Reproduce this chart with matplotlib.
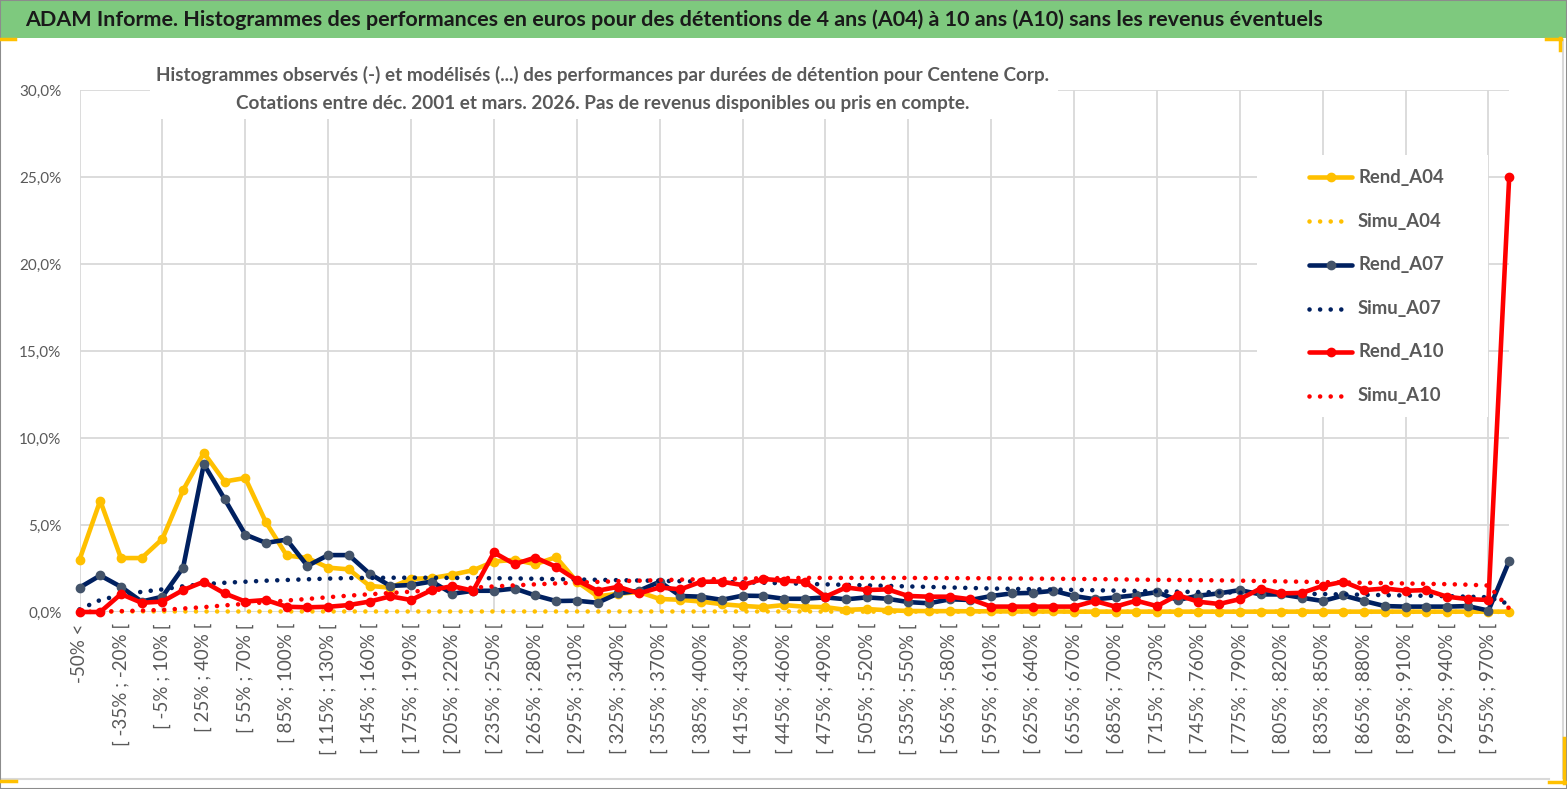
import matplotlib
matplotlib.use("Agg")
import matplotlib.pyplot as plt
from matplotlib.lines import Line2D
from matplotlib.patches import Rectangle
from matplotlib.ticker import FuncFormatter

# ---------------- data (values in %) ----------------
categories = ["-50% <"] + [f"[ {lo}% ; {lo + 15}% [" for lo in range(-50, 956, 15)] + ["970% >"]

rend_a04 = [3.0, 6.4, 3.1, 3.1, 4.2, 7.0, 9.15, 7.5, 7.7, 5.15,
            3.25, 3.1, 2.55, 2.45, 1.5, 1.4, 1.9, 1.95, 2.15, 2.4,
            2.9, 3.0, 2.75, 3.15, 1.75, 0.9, 1.05, 1.15, 0.75, 0.7,
            0.6, 0.45, 0.35, 0.28, 0.4, 0.3, 0.28, 0.12, 0.17, 0.1,
            0.06, 0.05, 0.05, 0.04, 0.04, 0.03, 0.03, 0.03, 0.02, 0.02,
            0.02, 0.02, 0.02, 0.02, 0.02, 0.02, 0.02, 0.02, 0.02, 0.02,
            0.02, 0.02, 0.02, 0.02, 0.02, 0.02, 0.02, 0.02, 0.02, 0.02]

simu_a04 = [0.0, 0.02, 0.03, 0.03, 0.03, 0.03, 0.03, 0.03, 0.03, 0.03,
            0.03, 0.03, 0.03, 0.03, 0.03, 0.03, 0.03, 0.03, 0.03, 0.03,
            0.03, 0.03, 0.03, 0.03, 0.03, 0.03, 0.03, 0.03, 0.03, 0.03,
            0.03, 0.03, 0.03, 0.03, 0.03, 0.03, 0.02, 0.02, 0.02, 0.02,
            0.02, 0.02, 0.02, 0.02, 0.02, 0.02, 0.02, 0.02, 0.02, 0.02,
            0.02, 0.02, 0.02, 0.02, 0.02, 0.02, 0.02, 0.02, 0.02, 0.02,
            0.01, 0.01, 0.01, 0.01, 0.01, 0.01, 0.01, 0.01, 0.01, 0.0]

rend_a07 = [1.4, 2.1, 1.45, 0.6, 0.88, 2.55, 8.5, 6.5, 4.45, 3.97,
            4.16, 2.65, 3.27, 3.27, 2.2, 1.5, 1.55, 1.75, 1.05, 1.22,
            1.22, 1.35, 0.95, 0.63, 0.65, 0.53, 1.07, 1.22, 1.74, 0.92,
            0.88, 0.7, 0.94, 0.92, 0.76, 0.76, 0.84, 0.73, 0.84, 0.76,
            0.57, 0.5, 0.73, 0.69, 0.92, 1.07, 1.1, 1.22, 0.92, 0.73,
            0.84, 0.97, 1.14, 0.69, 0.94, 1.07, 1.26, 1.01, 1.01, 0.82,
            0.63, 0.95, 0.63, 0.34, 0.31, 0.31, 0.31, 0.34, 0.08, 2.92]

simu_a07 = [0.15, 0.69, 0.97, 1.16, 1.3, 1.48, 1.6, 1.68, 1.74, 1.8,
            1.84, 1.88, 1.92, 1.95, 1.96, 1.97, 1.97, 1.97, 1.96, 1.95,
            1.94, 1.93, 1.91, 1.89, 1.87, 1.85, 1.83, 1.81, 1.79, 1.77,
            1.75, 1.73, 1.71, 1.68, 1.65, 1.62, 1.59, 1.56, 1.53, 1.5,
            1.47, 1.44, 1.41, 1.38, 1.35, 1.33, 1.31, 1.29, 1.27, 1.25,
            1.23, 1.21, 1.19, 1.17, 1.15, 1.13, 1.11, 1.09, 1.07, 1.05,
            1.03, 1.01, 0.99, 0.97, 0.95, 0.93, 0.91, 0.88, 0.85, 0.45]

rend_a10 = [0.0, 0.0, 1.03, 0.53, 0.6, 1.26, 1.74, 1.07, 0.6, 0.69,
            0.3, 0.27, 0.3, 0.4, 0.6, 0.9, 0.69, 1.26, 1.49, 1.22,
            3.42, 2.75, 3.13, 2.6, 1.83, 1.22, 1.45, 1.07, 1.41, 1.3,
            1.74, 1.74, 1.55, 1.9, 1.8, 1.74, 0.88, 1.41, 1.26, 1.3,
            0.92, 0.88, 0.88, 0.73, 0.31, 0.31, 0.31, 0.31, 0.31, 0.63,
            0.31, 0.65, 0.34, 0.97, 0.59, 0.46, 0.74, 1.35, 1.07, 1.1,
            1.5, 1.74, 1.26, 1.35, 1.22, 1.26, 0.88, 0.74, 0.69, 25.0]

simu_a10 = [0.0, 0.02, 0.05, 0.08, 0.12, 0.2, 0.28, 0.38, 0.47, 0.56,
            0.66, 0.75, 0.85, 0.94, 1.02, 1.09, 1.17, 1.25, 1.33, 1.4,
            1.47, 1.53, 1.59, 1.64, 1.69, 1.73, 1.77, 1.8, 1.83, 1.86,
            1.88, 1.9, 1.92, 1.94, 1.95, 1.96, 1.96, 1.96, 1.96, 1.96,
            1.96, 1.95, 1.95, 1.94, 1.94, 1.93, 1.92, 1.91, 1.9, 1.89,
            1.88, 1.86, 1.85, 1.84, 1.83, 1.82, 1.8, 1.78, 1.76, 1.74,
            1.72, 1.7, 1.68, 1.66, 1.64, 1.62, 1.6, 1.57, 1.52, 0.2]

series_names = ["Rend_A04", "Simu_A04", "Rend_A07", "Simu_A07", "Rend_A10", "Simu_A10"]

title = ("ADAM Informe. Histogrammes des performances en euros pour des détentions "
         "de 4 ans (A04) à 10 ans (A10) sans les revenus éventuels")
subtitle1 = ("Histogrammes observés (-) et modélisés (...) des performances par durées "
             "de détention pour Centene Corp.")
subtitle2 = "Cotations entre déc. 2001 et mars. 2026. Pas de revenus disponibles ou pris en compte."

# ---------------- styles ----------------
YELLOW = "#FFC000"
NAVY = "#002060"
RED = "#FF0000"
NAVY_MK = "#44546A"
GRID = "#D9D9D9"
TXT = "#595959"
GREEN = "#7EC97E"

plt.rcParams["font.family"] = ["Lato", "DejaVu Sans"]

W, H = 1567, 789
fig = plt.figure(figsize=(W / 100, H / 100), dpi=100)
fig.patch.set_facecolor("white")


def fx(px):
    return px / W


def fy(py):
    return 1 - py / H


def fit_width(t, target):
    for _ in range(3):
        fig.canvas.draw()
        w = t.get_window_extent(fig.canvas.get_renderer()).width
        t.set_fontsize(t.get_fontsize() * target / w)


# ---------------- axes ----------------
x0, x1, ytop, ybot = 79.5, 1509.2, 90, 612
ax = fig.add_axes([fx(x0), fy(ybot), fx(x1) - fx(x0), fy(ytop) - fy(ybot)])
ax.set_xlim(0, len(categories) - 1)
ax.set_ylim(0, 0.30)
for s in ax.spines.values():
    s.set_visible(False)

xs = list(range(len(categories)))

DOTS = (0, (0.01, 2.3))
dot_style = dict(linestyle=DOTS, dash_capstyle="round", lw=3.3, clip_on=False)
solid_style = dict(lw=3.3, marker="o", ms=6, solid_joinstyle="round", solid_capstyle="round", clip_on=False)

ax.plot(xs, [v / 100 for v in rend_a04], color=YELLOW, mfc=YELLOW, mec=YELLOW, zorder=4, **solid_style)
ax.plot(xs, [v / 100 for v in simu_a04], color=YELLOW, zorder=5, **dot_style)
ax.plot(xs, [v / 100 for v in rend_a07], color=NAVY, mfc=NAVY_MK, mec=NAVY_MK, zorder=6, **solid_style)
ax.plot(xs, [v / 100 for v in simu_a07], color=NAVY, zorder=7, **dot_style)
ax.plot(xs, [v / 100 for v in rend_a10], color=RED, mfc=RED, mec=RED, zorder=8, **solid_style)
ax.plot(xs, [v / 100 for v in simu_a10], color=RED, zorder=9, **dot_style)

ax.set_yticks([0, 0.05, 0.10, 0.15, 0.20, 0.25, 0.30])
ax.yaxis.set_major_formatter(FuncFormatter(lambda v, p: f"{v * 100:.1f}%".replace(".", ",")))
ax.xaxis.remove_overlapping_locs = False
ax.set_xticks(xs[::2])
ax.set_xticklabels(categories[::2], rotation=90, va="top", ha="center")
ax.set_xticks(xs[:-1:4], minor=True)
ax.tick_params(axis="both", which="both", length=0)
ax.tick_params(axis="x", which="major", pad=8, labelsize=13.5, labelcolor=TXT)
ax.tick_params(axis="y", which="major", pad=13, labelsize=11, labelcolor=TXT)
ax.grid(axis="y", which="major", color=GRID, lw=1.3)
ax.grid(axis="x", which="minor", color=GRID, lw=1.3)
ax.grid(axis="x", which="major", visible=False)
ax.set_axisbelow(True)

# ---------------- frame / title bar ----------------
fig.add_artist(Rectangle((0, fy(38)), 1, 38 / H, transform=fig.transFigure,
                         facecolor=GREEN, edgecolor="none", zorder=1))
fig.add_artist(Line2D([0, fx(1549)], [fy(778.5)] * 2, transform=fig.transFigure, color=GRID, lw=1.5, zorder=1))
fig.add_artist(Line2D([fx(1562.5)] * 2, [fy(40), fy(778)], transform=fig.transFigure, color=GRID, lw=1.5, zorder=1))
fig.add_artist(Rectangle((0, 0), 1, 1, transform=fig.transFigure, facecolor="none",
                         edgecolor="#8C8C8C", lw=1.5, zorder=10))
# selection handles
for xa, xb, ya, yb in [(0, 15, 38.5, 38.5), (0, 16, 781, 781), (1546, 1561, 38.5, 38.5),
                       (1549, 1565, 782, 782)]:
    fig.add_artist(Line2D([fx(xa), fx(xb)], [fy(ya), fy(yb)], transform=fig.transFigure,
                          color=YELLOW, lw=2.5, zorder=11))
for xa, ya, yb in [(1560, 38, 50), (1563.5, 738, 783)]:
    fig.add_artist(Line2D([fx(xa)] * 2, [fy(ya), fy(yb)], transform=fig.transFigure,
                          color=YELLOW, lw=2.5, zorder=11))

t_title = fig.text(fx(25), fy(20), title, ha="left", va="center", fontsize=18,
                   fontweight="bold", color="#1A1A1A", zorder=3)

# subtitle with white background hiding gridlines
fig.add_artist(Rectangle((fx(150), fy(119)), fx(1058) - fx(150), 64 / H, transform=fig.transFigure,
                         facecolor="white", edgecolor="none", zorder=2))
t_sub1 = fig.text(fx(603), fy(75), subtitle1, ha="center", va="center", fontsize=14,
                  fontweight="bold", color=TXT, zorder=3)
t_sub2 = fig.text(fx(603), fy(103), subtitle2, ha="center", va="center", fontsize=14,
                  fontweight="bold", color=TXT, zorder=3)

# ---------------- legend ----------------
fig.add_artist(Rectangle((fx(1257), fy(417)), fx(1488) - fx(1257), (417 - 155) / H,
                         transform=fig.transFigure, facecolor="white", edgecolor="none", zorder=2))
leg_y = [177, 221, 264.5, 308.5, 352, 396]
leg_cols = [YELLOW, YELLOW, NAVY, NAVY, RED, RED]
leg_mk = [YELLOW, None, NAVY_MK, None, RED, None]
leg_end = [1352, 1345, 1352, 1345, 1352, 1350]
leg_texts = []
for name, yy, col, mk, xe in zip(series_names, leg_y, leg_cols, leg_mk, leg_end):
    if mk is not None:
        fig.add_artist(Line2D([fx(1309), fx(xe)], [fy(yy)] * 2, transform=fig.transFigure,
                              color=col, lw=3.3, solid_capstyle="round", zorder=3))
        fig.add_artist(Line2D([fx(1330.5)], [fy(yy)], transform=fig.transFigure, marker="o",
                              ms=6, mfc=mk, mec=mk, color=col, zorder=4))
    else:
        fig.add_artist(Line2D([fx(1309), fx(xe)], [fy(yy)] * 2, transform=fig.transFigure,
                              color=col, lw=3.3, linestyle=DOTS,
                              dash_capstyle="round", zorder=3))
    leg_texts.append(fig.text(fx(1358), fy(yy), name, ha="left", va="center", fontsize=14,
                              fontweight="bold", color=TXT, zorder=3))

fit_width(t_title, 1297)
fit_width(t_sub1, 895)
t_sub2.set_fontsize(t_sub1.get_fontsize())
fit_width(leg_texts[0], 86)
for t in leg_texts[1:]:
    t.set_fontsize(leg_texts[0].get_fontsize())

fig.savefig("out.png", dpi=100, facecolor="white")
